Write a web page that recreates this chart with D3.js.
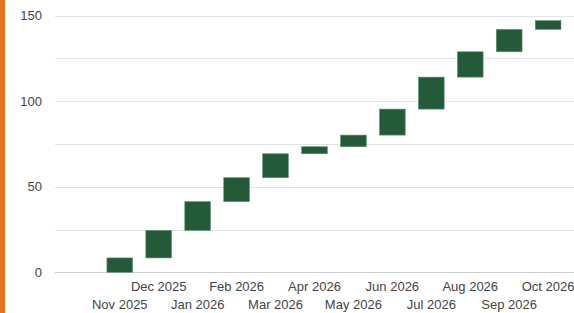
<!DOCTYPE html>
<html><head><meta charset="utf-8">
<script src="https://cdn.jsdelivr.net/npm/d3@7"></script>
<style>
html,body{margin:0;padding:0;background:#fff;}
svg{display:block;}
</style></head>
<body>
<svg id="c" width="574" height="313"></svg>
<script>
const categories = ["Nov 2025","Dec 2025","Jan 2026","Feb 2026","Mar 2026","Apr 2026","May 2026","Jun 2026","Jul 2026","Aug 2026","Sep 2026","Oct 2026"];
const increments = [8.4, 16.1, 16.8, 14.0, 14.0, 4.1, 6.8, 15.2, 18.7, 14.8, 13.1, 5.1];
const yTicks = [0, 50, 100, 150];
const gridTicks = [0, 25, 50, 75, 100, 125, 150];

let acc = 0;
const rows = categories.map((c, i) => {
  const start = acc; acc += increments[i];
  return {cat: c, start: start, end: acc, i: i};
});

const svg = d3.select("#c");
svg.append("rect").attr("x",0).attr("y",0).attr("width",5).attr("height",313).attr("fill","#e8731f");

const x = d3.scaleBand().domain(categories).range([100.3, 567.6]).paddingInner(0.34).paddingOuter(0.17);
const y = d3.scaleLinear().domain([0,150]).range([272.3, 15.7]);

// gridlines
svg.append("g").selectAll("line").data(gridTicks).join("line")
  .attr("x1",55).attr("x2",574)
  .attr("y1",d=>Math.round(y(d))+0.5).attr("y2",d=>Math.round(y(d))+0.5)
  .attr("stroke", d=> d===0 ? "#cfcfcf" : "#e3e3e3").attr("stroke-width",1);

// y labels
const yAxis = d3.axisLeft(y).tickValues(yTicks).tickSize(0).tickPadding(0);
const ya = svg.append("g").attr("transform","translate(42,0)").call(yAxis);
ya.select(".domain").remove();
ya.selectAll("text").attr("fill","#444").style("font-family","'Liberation Sans', Arial, sans-serif").style("font-size","13px");

// bars
svg.append("g").selectAll("rect").data(rows).join("rect")
  .attr("x", d=>x(d.cat)).attr("width", x.bandwidth())
  .attr("y", d=>y(d.end)).attr("height", d=>y(d.start)-y(d.end))
  .attr("fill","#235b39").attr("stroke","#5f8f6f").attr("stroke-width",0.6);

// x labels, staggered
const xa = d3.axisBottom(x).tickSize(0).tickPadding(0);
const xg = svg.append("g").attr("transform","translate(0,0)").call(xa);
xg.select(".domain").remove();
xg.selectAll("text")
  .attr("y", (d,i)=> i%2===0 ? 309 : 291).attr("dy", null)
  .attr("fill","#444").style("font-family","'Liberation Sans', Arial, sans-serif").style("font-size","13px");
</script>
</body></html>
